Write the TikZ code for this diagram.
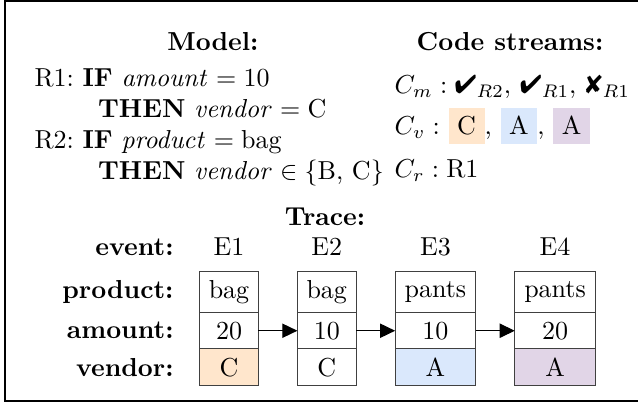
\documentclass[tikz,border=0pt]{standalone}
\usepackage{pifont}
\usetikzlibrary{positioning,arrows.meta}
\definecolor{vorange}{HTML}{FFE6CC}
\definecolor{vblue}{HTML}{DAE8FC}
\definecolor{vpurple}{HTML}{E1D5E7}
\newcommand{\streambox}[2]{{\setlength{\fboxsep}{3.33pt}\colorbox{#1}{#2}}}

\begin{document}
\begin{tikzpicture}[x=0.3846pt, y=-0.3846pt]
    \tikzset{cell/.style = {draw=black!75, inner sep=.3333em, outer sep=0pt, minimum height=14pt}}
    \tikzset{narrow/.style = {minimum width=22.6pt}}
    \tikzset{wide/.style = {minimum width=31pt}}
    \tikzset{toprow/.style = {minimum height=15.8pt}}
    \tikzset{rowlabel/.style = {font=\bfseries}}
    \tikzset{flow/.style = {draw=black, -{Triangle[length=5.8pt, width=5.5pt]}}}

    \useasboundingbox (0,0) rectangle (638,402);
    \clip (0,0) rectangle (638,402);
    \draw[line width=0.8pt] (640,1) -- (5,1) -- (5,401) -- (640,401);

    % titles
    \node[font=\bfseries, anchor=base] (model) at (213,51) {Model:};
    \node[font=\bfseries, anchor=base] (streams) at (510,51) {Code streams:};
    \node[font=\bfseries, anchor=base] (trace) at (325,226) {Trace:};

    % model
    \node[anchor=north west, inner sep=0pt] (rules) at (34,64) {%
      \begin{tabular}{@{}l@{\ }l@{}}
        R1: & \textbf{IF} $\mathit{amount} = 10$\\
            & \hspace{6pt}\textbf{THEN} $\mathit{vendor} = \mbox{C}$\\
        R2: & \textbf{IF} $\mathit{product} = \mbox{bag}$\\
            & \hspace{6pt}\textbf{THEN} $\mathit{vendor} \in \{\mbox{B, C}\}$
      \end{tabular}};

    % code streams
    \node[anchor=base west, inner sep=0pt] (cm) at (394,94)
      {$C_m: \mbox{\ding{52}}_{R2},\, \mbox{\ding{52}}_{R1},\, \mbox{\ding{56}}_{R1}$};
    \node[anchor=base west, inner sep=0pt] (cv) at (394,135)
      {$C_v:$ \streambox{vorange}{C}, \streambox{vblue}{A}, \streambox{vpurple}{A}};
    \node[anchor=base west, inner sep=0pt] (cr) at (394,178) {$C_r: \mbox{R1}$};

    % trace
    \node[cell, narrow, toprow] (p1) at (229,292) {bag};
    \node[cell, narrow, toprow, right=15pt of p1] (p2) {bag};
    \node[cell, wide, toprow, right=15pt of p2] (p3) {pants};
    \node[cell, wide, toprow, right=15pt of p3] (p4) {pants};

    \node[cell, narrow, below=0pt of p1] (a1) {20};
    \node[cell, narrow, below=0pt of p2] (a2) {10};
    \node[cell, wide, below=0pt of p3] (a3) {10};
    \node[cell, wide, below=0pt of p4] (a4) {20};

    \node[cell, narrow, fill=vorange, below=0pt of a1] (v1) {C};
    \node[cell, narrow, below=0pt of a2] (v2) {C};
    \node[cell, wide, fill=vblue, below=0pt of a3] (v3) {A};
    \node[cell, wide, fill=vpurple, below=0pt of a4] (v4) {A};

    \node[above=2.5pt of p1] (e1) {E1};
    \node[above=2.5pt of p2] (e2) {E2};
    \node[above=2.5pt of p3] (e3) {E3};
    \node[above=2.5pt of p4] (e4) {E4};

    \node[rowlabel, left=6.5pt of p1] (lprod) {product:};
    \node[rowlabel, left=6.5pt of a1] (lamount) {amount:};
    \node[rowlabel, left=6.5pt of v1] (lvendor) {vendor:};
    \node[rowlabel, anchor=east] (levent) at (lprod.east |- e1) {event:};

    \draw[flow] (a1) -- (a2);
    \draw[flow] (a2) -- (a3);
    \draw[flow] (a3) -- (a4);
\end{tikzpicture}
\end{document}
